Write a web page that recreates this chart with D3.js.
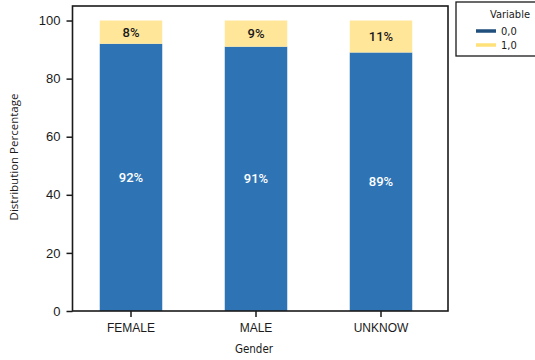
<!DOCTYPE html>
<html>
<head>
<meta charset="utf-8">
<script src="https://cdn.jsdelivr.net/npm/d3@7"></script>
<style>
  html, body { margin: 0; padding: 0; background: #fff; }
  svg { display: block; font-family: "DejaVu Sans Condensed", "DejaVu Sans", sans-serif; }
</style>
</head>
<body>
<svg id="chart" width="535" height="360"></svg>
<script>
// Share of each Variable level within each gender (percent)
const categories = ["FEMALE", "MALE", "UNKNOW"];
const share0 = [92, 91, 89];   // Variable = 0,0
const share1 = [8, 9, 11];     // Variable = 1,0
const yTicks = [0, 20, 40, 60, 80, 100];
const seriesNames = ["0,0", "1,0"];

const colors = { bar0: "#2e74b5", bar1: "#ffe699", leg0: "#204f7d", leg1: "#ffe17a", ink: "#1a1a1a" };

const svg = d3.select("#chart");
const plot = { left: 72.5, right: 448, top: 6, bottom: 311 };

const x = d3.scaleBand().domain(categories).range([68.5, 443.5]).paddingInner(0.5).paddingOuter(0.25);
const y = d3.scaleLinear().domain([0, 105]).range([plot.bottom, plot.top]);

const rows = categories.map((c, i) => ({ cat: c, v0: share0[i], v1: share1[i] }));
const stacked = d3.stack().keys(["v0", "v1"])(rows);
const fills = [colors.bar0, colors.bar1];

// stacked bars
stacked.forEach((layer, li) => {
  svg.append("g").selectAll("rect").data(layer).join("rect")
    .attr("x", d => x(d.data.cat))
    .attr("width", x.bandwidth())
    .attr("y", d => y(d[1]))
    .attr("height", d => y(d[0]) - y(d[1]))
    .attr("fill", fills[li]);
});

// percentage labels centred in each segment
stacked.forEach((layer, li) => {
  svg.append("g").selectAll("text").data(layer).join("text")
    .attr("x", d => x(d.data.cat) + x.bandwidth() / 2)
    .attr("y", d => (y(d[0]) + y(d[1])) / 2)
    .attr("dy", "0.35em")
    .attr("text-anchor", "middle")
    .attr("font-size", 13)
    .attr("font-weight", 500)
    .style("font-family", "Roboto, sans-serif")
    .attr("fill", li === 0 ? "#ffffff" : colors.ink)
    .text(d => (d[1] - d[0]) + "%");
});

// frame
svg.append("rect")
  .attr("x", plot.left).attr("y", plot.top)
  .attr("width", plot.right - plot.left).attr("height", plot.bottom - plot.top)
  .attr("fill", "none").attr("stroke", colors.ink).attr("stroke-width", 1.6);

// y axis
const yAxis = svg.append("g").attr("transform", `translate(${plot.left},0)`)
  .call(d3.axisLeft(y).tickValues(yTicks).tickSize(6).tickPadding(6));
yAxis.select(".domain").remove();
yAxis.selectAll("line").attr("stroke", colors.ink).attr("stroke-width", 1.5);
yAxis.selectAll("text").attr("font-size", 13).attr("fill", colors.ink)
  .attr("font-family", "inherit");

// x axis
const xAxis = svg.append("g").attr("transform", `translate(0,${plot.bottom})`)
  .call(d3.axisBottom(x).tickSize(6).tickPadding(6));
xAxis.select(".domain").remove();
xAxis.selectAll("line").attr("stroke", colors.ink).attr("stroke-width", 1.5);
xAxis.selectAll("text").attr("font-size", 12).attr("fill", colors.ink)
  .attr("font-family", "inherit");

// axis titles
svg.append("text")
  .attr("x", 254).attr("y", 353)
  .attr("text-anchor", "middle").attr("font-size", 11.5).attr("fill", colors.ink)
  .text("Gender");
svg.append("text")
  .attr("transform", "translate(18,157) rotate(-90)")
  .attr("text-anchor", "middle").attr("font-size", 11.5).attr("fill", colors.ink)
  .style("font-family", "'Open Sans', sans-serif")
  .text("Distribution Percentage");

// legend
const leg = svg.append("g");
leg.append("rect")
  .attr("x", 456).attr("y", 2).attr("width", 85).attr("height", 54)
  .attr("fill", "#fff").attr("stroke", colors.ink).attr("stroke-width", 1.3);
leg.append("text")
  .attr("x", 530).attr("y", 18).attr("text-anchor", "end")
  .attr("font-size", 11).attr("fill", colors.ink).text("Variable");
const legColors = [colors.leg0, colors.leg1];
seriesNames.forEach((name, i) => {
  const ly = 31 + i * 14;
  leg.append("line")
    .attr("x1", 476).attr("x2", 496).attr("y1", ly).attr("y2", ly)
    .attr("stroke", legColors[i]).attr("stroke-width", 3.5);
  leg.append("text")
    .attr("x", 501).attr("y", ly).attr("dy", "0.35em")
    .attr("font-size", 11).attr("fill", colors.ink).text(name);
});
</script>
</body>
</html>
